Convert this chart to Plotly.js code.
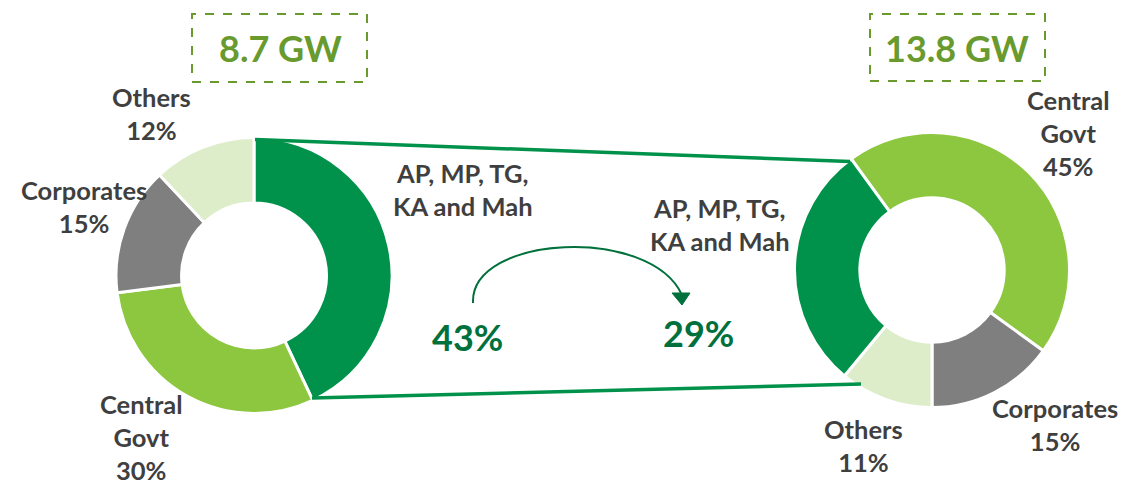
<!DOCTYPE html>
<html>
<head>
<meta charset="utf-8">
<script src="https://cdn.plot.ly/plotly-3.0.1.min.js"></script>
<style>html,body{margin:0;padding:0;background:#fff;}#chart{width:1124px;height:484px;}</style>
</head>
<body>
<div id="chart"></div>
<script>
// ---- data ----
const categoriesLeft = ["AP, MP, TG, KA and Mah", "Central Govt", "Corporates", "Others"];
const valuesLeft = [43, 30, 15, 12];
const categoriesRight = ["Central Govt", "Corporates", "Others", "AP, MP, TG, KA and Mah"];
const valuesRight = [45, 15, 11, 29];
const totalLeft = "8.7 GW";
const totalRight = "13.8 GW";
const labelLeft = ["AP, MP, TG,<br>KA and Mah", "Central<br>Govt<br>30%", "Corporates<br>15%", "Others<br>12%"];
const labelRight = ["Central<br>Govt<br>45%", "Corporates<br>15%", "Others<br>11%", "AP, MP, TG,<br>KA and Mah"];

const colorMap = {
  "AP, MP, TG, KA and Mah": "#00924A",
  "Central Govt": "#8DC63F",
  "Corporates": "#7F7F7F",
  "Others": "#DEEDC9"
};

const W = 1124, H = 484;
const px = x => x / W;
const py = y => 1 - y / H;

const FONT = "Lato, 'Open Sans', sans-serif";
const TXT = "#3F3F3F";
const DKG = "#00703C";
const GWC = "#689A2E";
const LS = 25.5;

const traces = [
  {
    type: "pie", labels: categoriesLeft, values: valuesLeft,
    sort: false, direction: "clockwise", rotation: 0, hole: 0.525,
    marker: {colors: categoriesLeft.map(c => colorMap[c]), line: {color: "#fff", width: 3}},
    textinfo: "none", hoverinfo: "label+percent",
    domain: {x: [px(116), px(392)], y: [py(413.5), py(137.5)]}
  },
  {
    type: "pie", labels: categoriesRight, values: valuesRight,
    sort: false, direction: "clockwise", rotation: -36, hole: 0.525,
    marker: {colors: categoriesRight.map(c => colorMap[c]), line: {color: "#fff", width: 3}},
    textinfo: "none", hoverinfo: "label+percent",
    domain: {x: [px(794.5), px(1069.5)], y: [py(407.5), py(132.5)]}
  }
];

function ann(text, x, y, size, color) {
  return {text: text, x: px(x), y: py(y), xref: "paper", yref: "paper", showarrow: false,
    xanchor: "center", yanchor: "middle",
    font: {family: FONT, size: size, color: color, weight: "bold"}};
}

const annotations = [
  ann(totalLeft, 280, 48, 36, GWC),
  ann(totalRight, 957, 48, 36, GWC),
  ann(labelLeft[0], 463, 189, LS, TXT),
  ann(labelLeft[1], 141, 437, LS, TXT),
  ann(labelLeft[2], 84, 206, LS, TXT),
  ann(labelLeft[3], 151, 113, LS, TXT),
  ann(labelRight[0], 1068, 133, LS, TXT),
  ann(labelRight[1], 1055, 424, LS, TXT),
  ann(labelRight[2], 863, 445, LS, TXT),
  ann(labelRight[3], 720, 224, LS, TXT),
  ann(valuesLeft[0] + "%", 467, 337, 36, DKG),
  ann(valuesRight[3] + "%", 698, 333, 36, DKG)
];

function P(pts) { return pts.map((p, i) => (i ? "L" : "M") + px(p[0]) + "," + py(p[1])).join(" ") ; }

const shapes = [
  {type: "rect", xref: "paper", yref: "paper", x0: px(192), x1: px(367), y0: py(82), y1: py(14),
   line: {color: GWC, width: 2, dash: "dash"}},
  {type: "rect", xref: "paper", yref: "paper", x0: px(870), x1: px(1045), y0: py(81), y1: py(14),
   line: {color: GWC, width: 2, dash: "dash"}},
  {type: "line", xref: "paper", yref: "paper", x0: px(255), y0: py(139.5), x1: px(850), y1: py(161.5),
   line: {color: "#00924A", width: 3.5}},
  {type: "line", xref: "paper", yref: "paper", x0: px(312), y0: py(398), x1: px(861), y1: py(384),
   line: {color: "#00924A", width: 3.5}},
  {type: "path", xref: "paper", yref: "paper",
   path: "M" + px(473) + "," + py(303) + " C" + px(470) + "," + py(235) + " " + px(650) + "," + py(225) + " " + px(682) + "," + py(295),
   line: {color: DKG, width: 2}},
  {type: "path", xref: "paper", yref: "paper",
   path: P([[672, 293], [690, 293], [682, 305]]) + " Z",
   fillcolor: DKG, line: {color: DKG, width: 1}}
];

const layout = {
  width: W, height: H, margin: {l: 0, r: 0, t: 0, b: 0},
  paper_bgcolor: "#fff", plot_bgcolor: "#fff", showlegend: false,
  annotations: annotations, shapes: shapes
};

Plotly.newPlot("chart", traces, layout, {displayModeBar: false, staticPlot: true});
</script>
</body>
</html>
